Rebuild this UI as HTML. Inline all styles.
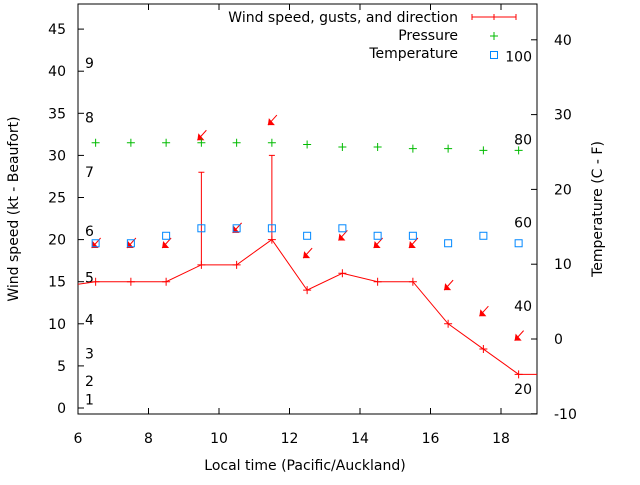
<!DOCTYPE html>
<html><head><meta charset="utf-8"><style>
body{margin:0;background:#fff}
svg{font-family:"DejaVu Sans","Liberation Sans",sans-serif;font-size:14px}
</style></head><body>
<svg id="c" width="640" height="480" xmlns="http://www.w3.org/2000/svg"></svg>
<script>
const hours=[6.5,7.5,8.5,9.5,10.5,11.5,12.5,13.5,14.5,15.5,16.5,17.5,18.5];
const wind=[15,15,15,17,17,20,14,16,15,15,10,7,4];
const gusts=[null,null,null,28,null,30,null,null,null,null,null,null,null];
const pressure=[31.5,31.5,31.5,31.5,31.5,31.5,31.3,31.0,31.0,30.8,30.8,30.6,30.6];
const temperature=[12.8,12.8,13.8,14.8,14.8,14.8,13.8,14.8,13.8,13.8,12.8,13.8,12.8];
const arrowY=[19.0,19.0,19.0,31.8,20.8,33.6,17.8,19.9,19.0,19.0,14.0,10.9,8.0];
const xTicks=[6,8,10,12,14,16,18];
const yTicks=[0,5,10,15,20,25,30,35,40,45];
const y2Ticks=[-10,0,10,20,30,40];
const beaufort=["1","2","3","4","5","6","7","8","9"];
const beaufortKt=[1,3.2,6.5,10.5,15.5,21,28,34.5,41];
const fahr=["20","40","60","80","100"];
const fahrVal=[-6.7,4.4,15.6,26.7,37.8];

const L=78,R=537,T=4,B=414;
const X=v=>L+(v-6)*35.25;
const Y=v=>408-v*8.42;
const Y2=v=>339-v*7.48;
const svg=document.getElementById('c');
const NS='http://www.w3.org/2000/svg';
function mk(tag,attrs,name,parent){const e=document.createElementNS(NS,tag);for(const k in attrs)e.setAttribute(k,attrs[k]);


(parent||svg).appendChild(e);return e;}
function txt(x,y,s,anchor,name,extra){const t=mk('text',Object.assign({x:x,y:y,'text-anchor':anchor||'middle',fill:'#000'},extra||{}),name);t.textContent=s;return t;}

mk('rect',{x:L,y:T,width:R-L,height:B-T,fill:'none',stroke:'#000','stroke-width':1},'plot-frame');
xTicks.forEach(v=>{const x=X(v);
 mk('line',{x1:x,y1:B,x2:x,y2:B-6,stroke:'#000'},'x-tick');
 mk('line',{x1:x,y1:T,x2:x,y2:T+6,stroke:'#000'},'x-tick-top');
 txt(x,B+29,String(v),'middle','x-tick-label');});
yTicks.forEach(v=>{const y=Y(v);
 mk('line',{x1:L,y1:y,x2:L+6,y2:y,stroke:'#000'},'y-tick');
 txt(L-12,y+5,String(v),'end','y-tick-label');});
y2Ticks.forEach(v=>{const y=Y2(v);
 mk('line',{x1:R,y1:y,x2:R-6,y2:y,stroke:'#000'},'y2-tick');
 txt(R+17,y+5,String(v),'start','y2-tick-label');});
beaufort.forEach((s,i)=>txt(85,Y(beaufortKt[i])+5,s,'start','beaufort-label'));
fahr.forEach((s,i)=>txt(532,Y2(fahrVal[i])+5,s,'end','fahrenheit-label'));

txt(305,470,'Local time (Pacific/Auckland)','middle','x-axis-title');
txt(0,0,'Wind speed (kt - Beaufort)','middle','y-axis-title',{transform:'translate(18,209) rotate(-90)'});
txt(0,0,'Temperature (C - F)','middle','y2-axis-title',{transform:'translate(602,209) rotate(-90)'});

let pts=[[L,Y(14.7)]].concat(hours.map((h,i)=>[X(h),Y(wind[i])])).concat([[R,Y(4)]]);
mk('polyline',{points:pts.map(p=>p.join(',')).join(' '),fill:'none',stroke:'#f00','stroke-width':1},'wind-line');
hours.forEach((h,i)=>{const x=X(h),y=Y(wind[i]);
 mk('path',{d:`M${x-4},${y}H${x+4}M${x},${y-4}V${y+4}`,stroke:'#f00'},'wind-point');
 if(gusts[i]!=null){const g=Y(gusts[i]);
  mk('path',{d:`M${x},${y}V${g}M${x-3},${g}H${x+3}`,stroke:'#f00'},'gust-bar');}
 const ay=Y(arrowY[i]);const hx=x-4;
 mk('line',{x1:hx+9,y1:ay-10,x2:hx,y2:ay,stroke:'#f00'},'direction-arrow-shaft');
 mk('polygon',{points:`${hx},${ay} ${hx+1},${ay-7} ${hx+7},${ay}`,fill:'#f00'},'direction-arrow-head');
});
hours.forEach((h,i)=>{const x=X(h),y=Y(pressure[i]);
 mk('path',{d:`M${x-4},${y}H${x+4}M${x},${y-4}V${y+4}`,stroke:'#0b0'},'pressure-point');});
hours.forEach((h,i)=>{const x=X(h),y=Y2(temperature[i]);
 mk('rect',{x:x-3.5,y:y-3.5,width:7,height:7,fill:'none',stroke:'#08f'},'temperature-point');});

txt(458,22,'Wind speed, gusts, and direction','end','legend-wind-label');
mk('path',{d:'M472,17H516M472,14V20M516,14V20M494,14V20',stroke:'#f00'},'legend-wind-sample');
txt(458,40,'Pressure','end','legend-pressure-label');
mk('path',{d:'M490,36H498M494,32V40',stroke:'#0b0'},'legend-pressure-sample');
txt(458,58,'Temperature','end','legend-temperature-label');
mk('rect',{x:490.5,y:51.5,width:7,height:7,fill:'none',stroke:'#08f'},'legend-temperature-sample');
</script>
</body></html>
